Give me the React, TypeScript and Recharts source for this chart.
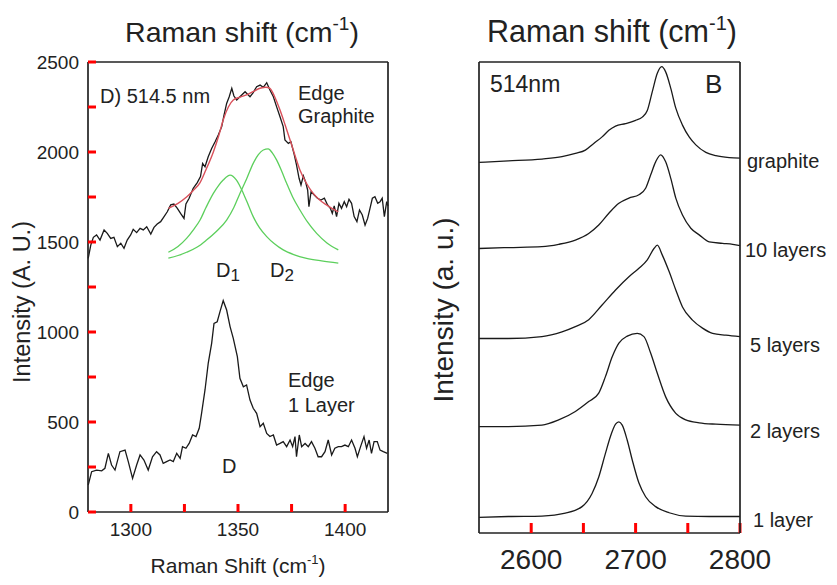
import React from 'react';
import { LineChart, Line, XAxis, YAxis } from 'recharts';

type P = [number, number];

// ---------- Left panel (D band, 514.5 nm) ----------
const leftXTicks = [1300, 1325, 1350, 1375, 1400];
const leftYTicks = [0, 250, 500, 750, 1000, 1250, 1500, 1750, 2000, 2250, 2500];

const edgeGraphite: P[] = [
  [1280.1, 1409], [1281.3, 1483], [1282.5, 1526], [1284.0, 1539], [1285.6, 1511], [1287.5, 1567],
  [1289.0, 1548], [1290.6, 1520], [1292.1, 1526], [1293.7, 1474], [1295.3, 1493], [1296.8, 1465],
  [1298.3, 1511], [1299.9, 1539], [1301.1, 1570], [1302.7, 1552], [1304.3, 1576], [1305.8, 1567],
  [1307.4, 1585], [1309.3, 1544], [1310.8, 1581], [1312.3, 1600], [1313.9, 1613], [1315.5, 1641],
  [1317.0, 1668], [1318.6, 1706], [1320.1, 1711], [1321.7, 1687], [1323.2, 1659], [1324.8, 1631],
  [1325.7, 1711], [1327.2, 1743], [1329.1, 1798], [1331.0, 1830], [1332.5, 1863], [1333.5, 1937],
  [1334.6, 1918], [1336.1, 1974], [1337.7, 2020], [1339.3, 2057], [1340.8, 2094], [1342.4, 2141],
  [1343.5, 2206], [1344.7, 2270], [1345.9, 2307], [1347.1, 2354], [1348.1, 2311], [1349.4, 2289],
  [1350.9, 2307], [1353.3, 2335], [1355.6, 2307], [1357.1, 2330], [1358.7, 2363], [1360.3, 2372],
  [1361.8, 2359], [1363.4, 2385], [1364.9, 2344], [1366.5, 2307], [1368.0, 2252], [1369.6, 2196],
  [1371.1, 2141], [1371.9, 2067], [1373.5, 2048], [1374.7, 2057], [1376.3, 1983], [1377.3, 1928],
  [1378.5, 1854], [1379.4, 1817], [1380.5, 1867], [1381.5, 1835], [1382.5, 1789], [1383.1, 1696],
  [1384.1, 1780], [1385.6, 1761], [1387.1, 1743], [1388.7, 1733], [1390.3, 1743], [1391.8, 1706],
  [1393.1, 1687], [1394.0, 1659], [1394.9, 1700], [1396.0, 1641], [1397.1, 1715], [1398.3, 1687],
  [1399.6, 1724], [1400.7, 1696], [1401.8, 1737], [1403.0, 1715], [1404.2, 1641], [1405.5, 1613],
  [1406.7, 1678], [1408.0, 1650], [1409.3, 1594], [1410.5, 1631], [1411.6, 1687], [1412.7, 1743],
  [1413.9, 1752], [1415.2, 1715], [1416.3, 1724], [1417.3, 1743], [1418.3, 1641], [1419.4, 1724],
  [1420.0, 1700],
];

const fitTotal: P[] = [
  [1317.5, 1687], [1322, 1715], [1326, 1750], [1329, 1785], [1332.3, 1830], [1335, 1900],
  [1338.5, 2000], [1341, 2090], [1343.1, 2178], [1345.5, 2250], [1347.8, 2289], [1351, 2305],
  [1354, 2317], [1357, 2335], [1360.3, 2354], [1363, 2360], [1364.9, 2354], [1367, 2310],
  [1369.6, 2233], [1372, 2150], [1374.3, 2067], [1376.5, 1985], [1378.9, 1900], [1382, 1825],
  [1385.1, 1770], [1388, 1735], [1391.3, 1706], [1394, 1685], [1396.8, 1668],
];

const fitD1: P[] = [
  [1317.5, 1443], [1322, 1475], [1326, 1520], [1329, 1565], [1332.3, 1622], [1335, 1690],
  [1338.5, 1770], [1341, 1815], [1343.1, 1844], [1346.3, 1872], [1349.3, 1844], [1352.5, 1770],
  [1355, 1700], [1357.1, 1641], [1360, 1580], [1363.4, 1530], [1367, 1490], [1371.1, 1456],
  [1376, 1430], [1382, 1409], [1389, 1395], [1396.8, 1383],
];

const fitD2: P[] = [
  [1317.5, 1411], [1322, 1425], [1326, 1443], [1331, 1472], [1335.3, 1511], [1340, 1560],
  [1344.7, 1622], [1348, 1690], [1350.9, 1770], [1354, 1850], [1357.1, 1937], [1359.5, 1985],
  [1361.8, 2011], [1364.1, 2017], [1366, 1995], [1368, 1956], [1370.5, 1890], [1372.7, 1826],
  [1375.5, 1750], [1378.9, 1678], [1382.5, 1610], [1386.7, 1548], [1391.5, 1495], [1396.8, 1456],
];

const edgeOneLayer: P[] = [
  [1280.1, 150], [1281.7, 224], [1284.0, 233], [1286.4, 229], [1287.9, 243], [1289.5, 326],
  [1291.0, 261], [1292.6, 233], [1294.9, 335], [1297.3, 344], [1298.8, 280], [1300.8, 187],
  [1302.7, 261], [1304.3, 317], [1306.1, 289], [1308.1, 233], [1310.1, 307], [1312.0, 335],
  [1313.6, 317], [1315.1, 270], [1316.7, 280], [1318.3, 289], [1319.8, 280], [1321.4, 326],
  [1323.0, 298], [1324.1, 363], [1325.7, 354], [1327.2, 381], [1328.8, 428], [1330.4, 419],
  [1331.9, 465], [1333.0, 548], [1334.6, 678], [1336.1, 826], [1337.7, 937], [1338.8, 1048],
  [1340.3, 1057], [1341.6, 1113], [1343.1, 1174], [1344.7, 1122], [1346.3, 1030], [1347.8, 965],
  [1349.7, 863], [1350.9, 743], [1352.5, 696], [1354.0, 706], [1355.6, 622], [1357.1, 576],
  [1358.7, 548], [1360.3, 474], [1361.8, 493], [1363.4, 437], [1364.9, 419], [1366.5, 428],
  [1368.0, 372], [1369.6, 381], [1371.1, 391], [1372.7, 363], [1374.3, 400], [1375.5, 363],
  [1376.6, 419], [1377.3, 307], [1378.6, 428], [1379.7, 363], [1381.3, 381], [1382.8, 363],
  [1384.3, 391], [1385.9, 354], [1387.4, 307], [1389.0, 307], [1390.6, 335], [1392.1, 400],
  [1393.7, 317], [1395.2, 354], [1396.8, 363], [1398.3, 363], [1399.9, 372], [1401.5, 363],
  [1403.0, 400], [1404.6, 354], [1405.7, 307], [1407.2, 363], [1408.8, 419], [1410.0, 354],
  [1411.2, 400], [1412.3, 326], [1413.5, 391], [1415.0, 391], [1416.3, 344], [1417.8, 335],
  [1419.7, 326],
];

// ---------- Right panel (2D band, 514 nm) ----------
const rightXTicks = [2600, 2650, 2700, 2750, 2800];

const graphite: P[] = [
  [2550, 7.87], [2578.2, 7.9], [2610.3, 7.94], [2629.5, 7.99], [2642.3, 8.06], [2651.9, 8.13],
  [2659.9, 8.27], [2667.9, 8.41], [2674.4, 8.55], [2680.8, 8.64], [2690.4, 8.69], [2700, 8.76],
  [2706.4, 8.83], [2711.2, 8.97], [2716, 9.37], [2720.8, 9.76], [2725, 9.9], [2728.8, 9.79],
  [2733.7, 9.44], [2738.5, 9.02], [2744.9, 8.66], [2751.3, 8.41], [2757.7, 8.24], [2767.3, 8.08],
  [2776.9, 8.01], [2789.7, 7.97], [2800, 7.96],
];

const tenLayers: P[] = [
  [2550, 6.04], [2578.2, 6.06], [2610.3, 6.08], [2626.3, 6.13], [2642.3, 6.22], [2655.1, 6.36],
  [2664.7, 6.54], [2674.4, 6.79], [2684, 7.0], [2693.6, 7.11], [2703.2, 7.18], [2709.6, 7.32],
  [2714.4, 7.6], [2719.2, 7.88], [2724, 8.03], [2728.8, 7.88], [2733.7, 7.53], [2738.5, 7.11],
  [2744.9, 6.75], [2752.9, 6.47], [2760.9, 6.33], [2770.5, 6.18], [2783.3, 6.15], [2793, 6.13],
  [2800, 6.1],
];

const fiveLayers: P[] = [
  [2550, 4.13], [2578.2, 4.13], [2610.3, 4.17], [2629.5, 4.27], [2642.3, 4.38], [2655.1, 4.53],
  [2667.9, 4.84], [2680.8, 5.16], [2693.6, 5.44], [2703.2, 5.62], [2711.2, 5.8], [2717.6, 6.04],
  [2720.8, 6.11], [2725.6, 5.9], [2732.1, 5.55], [2738.5, 5.16], [2744.9, 4.8], [2754.5, 4.52],
  [2764.1, 4.35], [2773.7, 4.24], [2786.5, 4.2], [2800, 4.17],
];

const twoLayers: P[] = [
  [2550, 2.26], [2578.2, 2.26], [2610.3, 2.29], [2626.3, 2.4], [2642.3, 2.58], [2655.1, 2.79],
  [2664.7, 2.97], [2671.1, 3.32], [2677.6, 3.74], [2684, 4.03], [2692, 4.18], [2701.6, 4.24],
  [2708, 4.17], [2714.4, 3.82], [2720.8, 3.39], [2728.8, 2.89], [2738.5, 2.54], [2748.1, 2.4],
  [2760.9, 2.34], [2776.9, 2.31], [2800, 2.29],
];

const oneLayer: P[] = [
  [2550, 0.33], [2578.2, 0.35], [2610.3, 0.36], [2632.7, 0.42], [2648.7, 0.56], [2658.3, 0.84],
  [2664.7, 1.19], [2671.1, 1.69], [2675.9, 2.05], [2680.8, 2.31], [2684, 2.36], [2687.2, 2.29],
  [2692, 1.97], [2696.8, 1.55], [2703.2, 1.06], [2709.6, 0.77], [2719.2, 0.56], [2732.1, 0.43],
  [2748.1, 0.36], [2770.5, 0.35], [2800, 0.35],
];

const layerLabels = ['graphite', '10 layers', '5 layers', '2 layers', '1 layer'];

const FONT = '"Liberation Sans", Arial, Helvetica, sans-serif';
const AX = '#222';
const TXT = '#222';

const pts = (a: P[]) => a.map(([x, y]) => ({ x, y }));
const axisLine = { stroke: AX, strokeWidth: 1.7 };
const tickLine = { stroke: 'red', strokeWidth: 3 };
const NoLabel = () => <g />;

export default function App() {
  return (
    <div style={{ position: 'fixed', left: 0, top: 0, width: 837, height: 585, background: '#fff', overflow: 'hidden' }}>
      {/* Left panel */}
      <div style={{ position: 'absolute', left: 0, top: 0, width: 420, height: 585 }}>
        <LineChart width={420} height={585} margin={{ top: 52, right: 22, bottom: 43, left: 28 }}>
          <XAxis
            xAxisId="b"
            type="number"
            dataKey="x"
            domain={[1280, 1420]}
            ticks={leftXTicks}
            interval={0}
            tickFormatter={(v: number) => (v % 50 === 0 ? String(v) : '')}
            height={30}
            tickSize={-8}
            tickMargin={19}
            axisLine={axisLine}
            tickLine={tickLine}
            tick={{ fill: AX, fontSize: 19, fontFamily: FONT }}
          />
          <XAxis
            xAxisId="t"
            orientation="top"
            type="number"
            dataKey="x"
            domain={[1280, 1420]}
            ticks={leftXTicks}
            interval={0}
            height={10}
            tickSize={-8}
            axisLine={axisLine}
            tickLine={tickLine}
            tick={NoLabel}
          />
          <YAxis
            yAxisId="l"
            type="number"
            domain={[0, 2500]}
            ticks={leftYTicks}
            interval={0}
            tickFormatter={(v: number) => (v % 500 === 0 ? String(v) : '')}
            width={60}
            tickSize={-8}
            tickMargin={17}
            axisLine={axisLine}
            tickLine={tickLine}
            tick={{ fill: AX, fontSize: 19, fontFamily: FONT }}
          />
          <YAxis
            yAxisId="r"
            orientation="right"
            type="number"
            domain={[0, 2500]}
            ticks={leftYTicks}
            interval={0}
            width={10}
            tickSize={-8}
            axisLine={axisLine}
            tickLine={tickLine}
            tick={NoLabel}
          />
          <Line xAxisId="b" yAxisId="l" data={pts(edgeGraphite)} dataKey="y" type="linear" stroke="#1a1a1a" strokeWidth={1.3} dot={false} isAnimationActive={false} />
          <Line xAxisId="b" yAxisId="l" data={pts(fitD1)} dataKey="y" type="monotone" stroke="#5ccf5c" strokeWidth={1.3} dot={false} isAnimationActive={false} />
          <Line xAxisId="b" yAxisId="l" data={pts(fitD2)} dataKey="y" type="monotone" stroke="#5ccf5c" strokeWidth={1.3} dot={false} isAnimationActive={false} />
          <Line xAxisId="b" yAxisId="l" data={pts(fitTotal)} dataKey="y" type="monotone" stroke="#d9505a" strokeWidth={1.4} dot={false} isAnimationActive={false} />
          <Line xAxisId="b" yAxisId="l" data={pts(edgeOneLayer)} dataKey="y" type="linear" stroke="#1a1a1a" strokeWidth={1.3} dot={false} isAnimationActive={false} />
        </LineChart>
      </div>

      {/* Right panel */}
      <div style={{ position: 'absolute', left: 420, top: 0, width: 417, height: 585 }}>
        <LineChart width={417} height={585} margin={{ top: 52, right: 87, bottom: 22, left: 19 }}>
          <XAxis
            xAxisId="b"
            type="number"
            dataKey="x"
            domain={[2550, 2800]}
            ticks={rightXTicks}
            interval={0}
            tickFormatter={(v: number) => (v % 100 === 0 ? String(v) : '')}
            height={30}
            tickSize={-10}
            tickMargin={26}
            axisLine={axisLine}
            tickLine={tickLine}
            tick={{ fill: TXT, fontSize: 28, fontFamily: FONT }}
          />
          <XAxis
            xAxisId="t"
            orientation="top"
            type="number"
            dataKey="x"
            domain={[2550, 2800]}
            ticks={rightXTicks.filter((t) => t < 2800)}
            interval={0}
            height={10}
            tickSize={-9}
            axisLine={axisLine}
            tickLine={tickLine}
            tick={NoLabel}
          />
          <YAxis yAxisId="l" type="number" domain={[0, 10]} width={40} tick={false} tickLine={false} axisLine={axisLine} />
          <YAxis yAxisId="r" orientation="right" type="number" domain={[0, 10]} width={10} tick={false} tickLine={false} axisLine={axisLine} />
          {[graphite, tenLayers, fiveLayers, twoLayers, oneLayer].map((s, i) => (
            <Line
              key={layerLabels[i]}
              name={layerLabels[i]}
              xAxisId="b"
              yAxisId="l"
              data={pts(s)}
              dataKey="y"
              type="monotone"
              stroke="#1a1a1a"
              strokeWidth={1.3}
              dot={false}
              isAnimationActive={false}
            />
          ))}
        </LineChart>
      </div>

      {/* Text overlay */}
      <svg width={837} height={585} style={{ position: 'absolute', left: 0, top: 0, pointerEvents: 'none' }} fontFamily={FONT}>
        <text x={242} y={42} textAnchor="middle" fontSize={28.5} fill={TXT}>
          Raman shift (cm<tspan fontSize={19} dy={-12}>-1</tspan><tspan dy={12}>)</tspan>
        </text>
        <text x={612} y={42} textAnchor="middle" fontSize={30.5} fill={TXT}>
          Raman shift (cm<tspan fontSize={20} dy={-12}>-1</tspan><tspan dy={12}>)</tspan>
        </text>
        <text x={238} y={573} textAnchor="middle" fontSize={21} fill={AX}>
          Raman Shift (cm<tspan fontSize={13} dy={-9}>-1</tspan><tspan dy={9}>)</tspan>
        </text>
        <text x={30} y={302} textAnchor="middle" fontSize={23.5} fill={AX} transform="rotate(-90 30 302)">
          Intensity (A. U.)
        </text>
        <text x={453} y={310} textAnchor="middle" fontSize={28} fill={TXT} transform="rotate(-90 453 310)">
          Intensity (a. u.)
        </text>

        <text x={100} y={103} fontSize={20} fill={TXT}>D) 514.5 nm</text>
        <text x={298} y={100} fontSize={20} fill={AX}>Edge</text>
        <text x={298} y={123} fontSize={20} fill={AX}>Graphite</text>
        <text x={216} y={277} fontSize={20} fill={TXT}>D<tspan fontSize={17} dy={4}>1</tspan></text>
        <text x={270} y={277} fontSize={20} fill={TXT}>D<tspan fontSize={17} dy={4}>2</tspan></text>
        <text x={288} y={387} fontSize={20} fill={AX}>Edge</text>
        <text x={288} y={412} fontSize={20} fill={AX}>1 Layer</text>
        <text x={222} y={473} fontSize={20} fill={AX}>D</text>

        <text x={490} y={92} fontSize={23} fill={TXT}>514nm</text>
        <text x={705} y={93} fontSize={26} fill={TXT}>B</text>
        <text x={747} y={168} fontSize={20} fill={TXT}>{layerLabels[0]}</text>
        <text x={745} y={257} fontSize={20} fill={TXT}>{layerLabels[1]}</text>
        <text x={750} y={352} fontSize={20} fill={TXT}>{layerLabels[2]}</text>
        <text x={750} y={438} fontSize={20} fill={TXT}>{layerLabels[3]}</text>
        <text x={753} y={527} fontSize={20} fill={TXT}>{layerLabels[4]}</text>
      </svg>
    </div>
  );
}
